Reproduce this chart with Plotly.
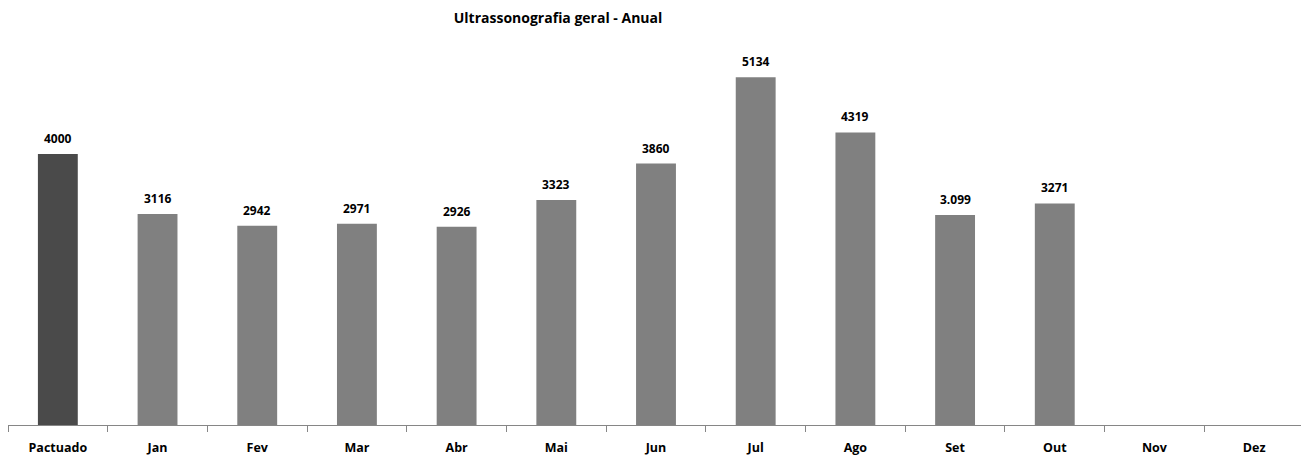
import plotly.graph_objects as go

categorias = ["Pactuado", "Jan", "Fev", "Mar", "Abr", "Mai", "Jun", "Jul", "Ago", "Set", "Out", "Nov", "Dez"]
valores = [4000, 3116, 2942, 2971, 2926, 3323, 3860, 5134, 4319, 3099, 3271, None, None]
rotulos = ["4000", "3116", "2942", "2971", "2926", "3323", "3860", "5134", "4319", "3.099", "3271", "", ""]
cores = ["#4a4a4a"] + ["#808080"] * 12

fig = go.Figure()
fig.add_trace(go.Bar(
    x=categorias, y=valores,
    marker=dict(color=cores, line=dict(width=0)),
    width=0.4,
))

# data labels as annotations so the gap above the bars can be set
for cat, val, txt in zip(categorias, valores, rotulos):
    if val is None:
        continue
    fig.add_annotation(
        x=cat, y=val, text="<b>" + txt + "</b>", showarrow=False,
        yanchor="bottom", yshift=5,
        font=dict(family="Open Sans", size=12, color="#000000"),
    )

# the page body adds an 8px offset, so the figure is 8px shorter to fit the window
fig.update_layout(
    width=1301, height=448,
    margin=dict(l=0, r=5, t=32, b=31),
    plot_bgcolor="white", paper_bgcolor="white",
    showlegend=False,
    title=dict(text="<b>Ultrassonografia geral - Anual</b>", x=550 / 1301, xanchor="center",
               y=1 - 10 / 448, yanchor="middle",
               font=dict(family="Open Sans", size=14, color="#000000")),
)
fig.update_xaxes(
    showline=True, linecolor="#868686", linewidth=1,
    ticks="outside", tickson="boundaries", ticklen=6, tickcolor="#868686",
    ticklabelstandoff=11,
    tickfont=dict(family="Open Sans", size=12.5, color="#000000", weight="bold"),
    showgrid=False,
)
fig.update_yaxes(visible=False, range=[0, 5683], showgrid=False)

fig.write_html("out.html")
